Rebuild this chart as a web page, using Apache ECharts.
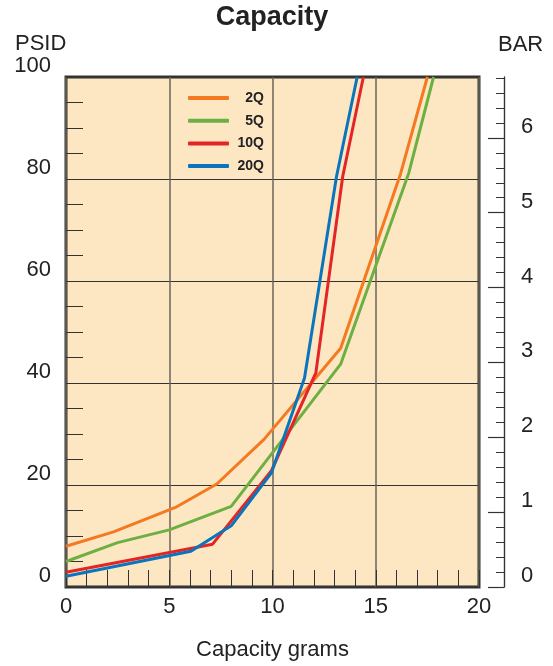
<!DOCTYPE html>
<html>
<head>
<meta charset="utf-8">
<script src="https://cdn.jsdelivr.net/npm/echarts@6/dist/echarts.min.js"></script>
<style>html,body{margin:0;padding:0;background:#fff}#c{width:553px;height:666px}</style>
</head>
<body>
<div id="c"></div>
<script>
const seriesNames = ['2Q', '5Q', '10Q', '20Q'];
const seriesColors = ['#F47920', '#6CB043', '#E42526', '#0A75BC'];
const s2Q = [[0, 8], [2.3, 10.8], [5.3, 15.6], [7.3, 20.2], [9.6, 29], [13.3, 46.8], [16.2, 81], [17.5, 100]];
const s5Q = [[0, 5], [2.5, 8.7], [5, 11.2], [8, 15.8], [13.3, 43.7], [16.6, 81.2], [17.8, 100]];
const s10Q = [[0, 2.9], [7.1, 8.4], [9.95, 22.8], [12.1, 42], [13.4, 80.5], [14.4, 100]];
const s20Q = [[0, 2.1], [6.05, 7.0], [8, 12], [9.95, 22.4], [11.55, 41], [13.1, 80.5], [14.1, 100]];
const seriesData = [s2Q, s5Q, s10Q, s20Q];
const barMajorTicks = [0, 1, 2, 3, 4, 5, 6];
const barMinorTicks = Array.from({length: 35}, (_, i) => Math.round(i * 0.2 * 10) / 10);
const barMax = 6.813;

const font = 'Liberation Sans, Arial, Helvetica, sans-serif';
const txt = '#222';
const chart = echarts.init(document.getElementById('c'));
chart.setOption({
  animation: false,
  textStyle: {fontFamily: font},
  graphic: [
    {type: 'text', x: 272, y: 4, style: {text: 'Capacity', font: 'bold 27px ' + font, fill: txt, textAlign: 'center', textVerticalAlign: 'top'}},
    {type: 'text', x: 15, y: 33, style: {text: 'PSID', font: '22px ' + font, fill: txt, textVerticalAlign: 'top'}},
    {type: 'text', x: 498, y: 34, style: {text: 'BAR', font: '22px ' + font, fill: txt, textVerticalAlign: 'top'}}
  ],
  grid: {left: 66, right: 74, top: 77, bottom: 78, show: true, backgroundColor: '#FDE7C2', borderColor: '#333', borderWidth: 3},
  legend: {
    orient: 'vertical', left: 183, top: 86, icon: 'roundRect', itemWidth: 41, itemHeight: 4, itemGap: 8.7,
    formatter: '{a|{name}}',
    textStyle: {rich: {a: {width: 30, align: 'right', fontSize: 14, fontWeight: 'bold', color: txt, fontFamily: font}}},
    data: seriesNames
  },
  xAxis: {
    type: 'value', min: 0, max: 20, interval: 5,
    name: 'Capacity grams', nameLocation: 'middle', nameGap: 52,
    nameTextStyle: {fontSize: 22, color: txt, fontFamily: font},
    axisLine: {show: false},
    axisTick: {show: true, inside: true, length: 17, lineStyle: {color: '#333', width: 1}},
    minorTick: {show: true, splitNumber: 5, length: 17, lineStyle: {color: '#333', width: 1}},
    axisLabel: {fontSize: 22, color: txt, margin: 9, fontFamily: font},
    splitLine: {show: true, lineStyle: {color: '#6a6458', width: 1.5}}
  },
  yAxis: [
    {
      type: 'value', min: 0, max: 100, interval: 20,
      axisLine: {show: false},
      axisTick: {show: true, inside: true, length: 17, lineStyle: {color: '#333', width: 1}},
      minorTick: {show: true, splitNumber: 4, length: 17, lineStyle: {color: '#333', width: 1}},
      axisLabel: {fontSize: 22, color: txt, margin: 15, verticalAlign: 'bottom', fontFamily: font},
      splitLine: {show: true, lineStyle: {color: '#333', width: 1.2}}
    },
    {
      type: 'value', position: 'right', offset: 25, min: 0, max: barMax,
      axisLine: {show: true, lineStyle: {color: '#333', width: 1.2}},
      axisTick: {show: true, inside: true, length: 16, customValues: barMajorTicks, lineStyle: {color: '#333', width: 1.2}},
      axisLabel: {fontSize: 22, color: txt, margin: 17, verticalAlign: 'bottom', customValues: barMajorTicks, fontFamily: font},
      splitLine: {show: false}
    },
    {
      type: 'value', position: 'right', offset: 25, min: 0, max: barMax,
      axisLine: {show: true, lineStyle: {color: '#333', width: 1.2}},
      axisTick: {show: true, inside: true, length: 8, customValues: barMinorTicks, lineStyle: {color: '#333', width: 1}},
      axisLabel: {show: false},
      splitLine: {show: false}
    }
  ],
  series: seriesNames.map((n, i) => ({
    name: n, type: 'line', data: seriesData[i], symbol: 'none', showSymbol: false,
    color: seriesColors[i], lineStyle: {width: 3, color: seriesColors[i]}, z: 3
  }))
});
</script>
</body>
</html>
